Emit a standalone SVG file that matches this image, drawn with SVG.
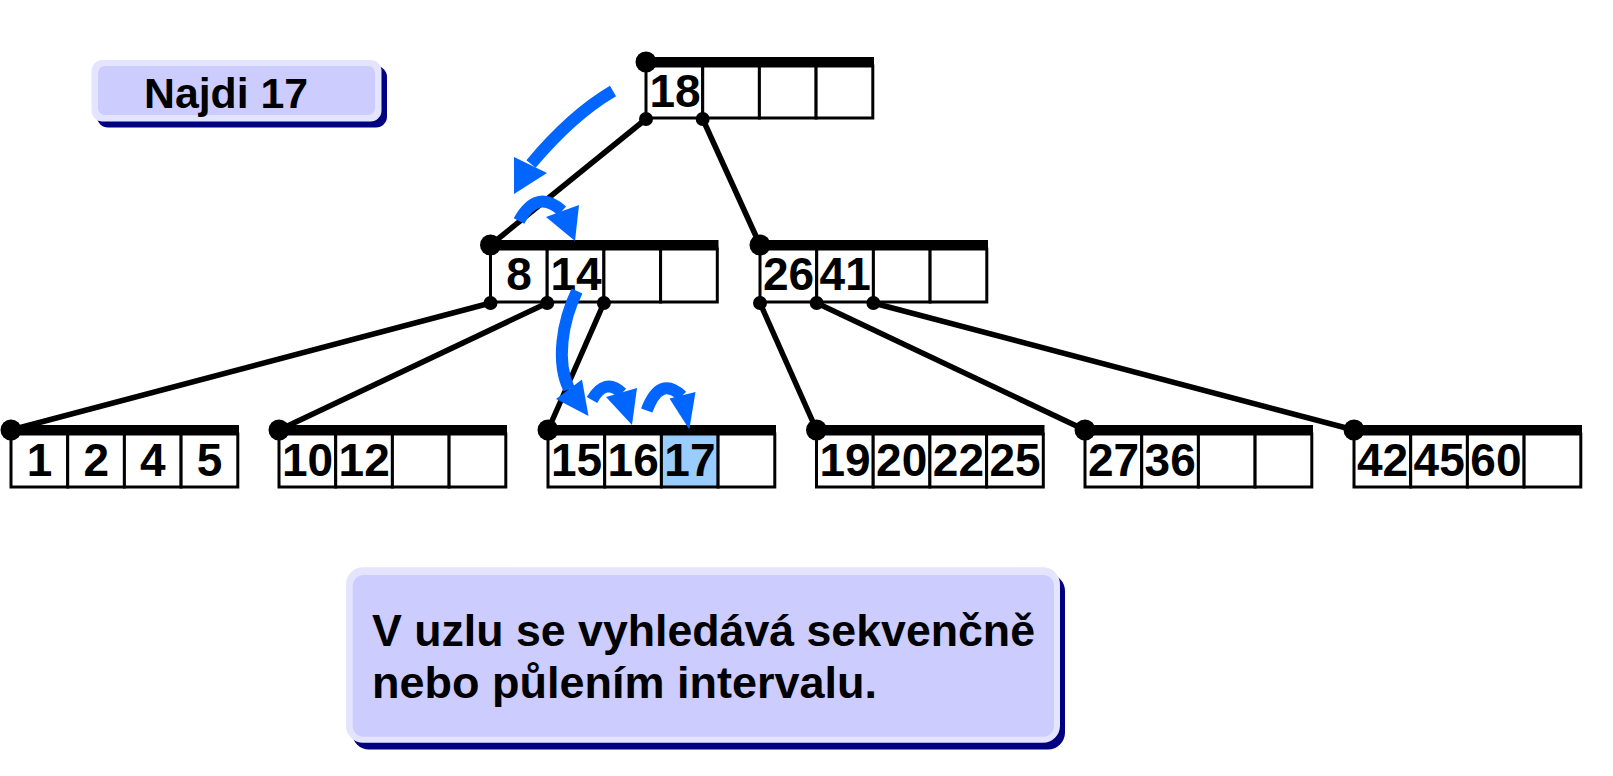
<svg xmlns="http://www.w3.org/2000/svg" width="1613" height="776" viewBox="0 0 1613 776">
<style>
.cell{fill:#fff;stroke:#000;stroke-width:3}
.hl{fill:#99CCFF}
.bar{fill:#000}
.dot{fill:#000}
.num{font-family:"Liberation Sans",Arial,sans-serif;font-weight:bold;font-size:46px;text-anchor:middle;fill:#000}
.lbl{font-family:"Liberation Sans",Arial,sans-serif;font-weight:bold;fill:#000}
.edge{stroke:#000;stroke-width:5.5;fill:none}
.arr{stroke:#0066FF;stroke-width:12;fill:none}
.head{fill:#0066FF}
.shadow{fill:#000080}
.rim{fill:#E4E4FF}
.inner{fill:#CCCCFF}
</style>
<rect width="1613" height="776" fill="#fff"/>

<g id="connectors">
<line class="edge" x1="646" y1="119" x2="490.5" y2="245"/>
<line class="edge" x1="702.7" y1="119" x2="760" y2="245"/>
<line class="edge" x1="490.5" y1="303" x2="11" y2="430"/>
<line class="edge" x1="547.2" y1="303" x2="279" y2="430"/>
<line class="edge" x1="603.9" y1="303" x2="548" y2="430"/>
<line class="edge" x1="760" y1="303" x2="816.5" y2="430"/>
<line class="edge" x1="816.7" y1="303" x2="1085" y2="430"/>
<line class="edge" x1="873.4" y1="303" x2="1354" y2="430"/>
</g>

<g id="label-najdi">
<rect class="shadow" x="97" y="66" width="290" height="61.5" rx="11"/>
<rect class="rim" x="91.5" y="60" width="290" height="61.5" rx="11"/>
<rect class="inner" x="98" y="66" width="277" height="49" rx="7"/>
<text class="lbl" x="144" y="108.3" font-size="42" textLength="164" lengthAdjust="spacingAndGlyphs">Najdi 17</text>
</g>

<g id="root">
<rect class="cell" x="646" y="66" width="56.7" height="52"/>
<rect class="cell" x="702.7" y="66" width="56.7" height="52"/>
<rect class="cell" x="759.4" y="66" width="56.7" height="52"/>
<rect class="cell" x="816.1" y="66" width="56.7" height="52"/>
<rect class="bar" x="646" y="57" width="228" height="10"/>
<circle class="dot" cx="646" cy="62" r="10.5"/>
<circle class="dot" cx="646" cy="119" r="7"/>
<circle class="dot" cx="702.7" cy="119" r="7"/>
<text class="num" x="675" y="106.5">18</text>
</g>

<g id="inner-left">
<rect class="cell" x="490.5" y="249" width="56.7" height="53"/>
<rect class="cell" x="547.2" y="249" width="56.7" height="53"/>
<rect class="cell" x="603.9" y="249" width="56.7" height="53"/>
<rect class="cell" x="660.6" y="249" width="56.7" height="53"/>
<rect class="bar" x="490.5" y="240" width="228" height="10"/>
<circle class="dot" cx="490.5" cy="245" r="10.5"/>
<circle class="dot" cx="490.5" cy="303" r="7"/>
<circle class="dot" cx="547.2" cy="303" r="7"/>
<circle class="dot" cx="603.9" cy="303" r="7"/>
<text class="num" x="519" y="290">8</text>
<text class="num" x="576" y="290">14</text>
</g>

<g id="inner-right">
<rect class="cell" x="760" y="249" width="56.7" height="53"/>
<rect class="cell" x="816.7" y="249" width="56.7" height="53"/>
<rect class="cell" x="873.4" y="249" width="56.7" height="53"/>
<rect class="cell" x="930.1" y="249" width="56.7" height="53"/>
<rect class="bar" x="760" y="240" width="228" height="10"/>
<circle class="dot" cx="760" cy="245" r="10.5"/>
<circle class="dot" cx="760" cy="303" r="7"/>
<circle class="dot" cx="816.7" cy="303" r="7"/>
<circle class="dot" cx="873.4" cy="303" r="7"/>
<text class="num" x="788.5" y="290">26</text>
<text class="num" x="845.2" y="290">41</text>
</g>

<g id="leaf1">
<rect class="cell" x="11" y="434" width="56.7" height="53"/>
<rect class="cell" x="67.7" y="434" width="56.7" height="53"/>
<rect class="cell" x="124.4" y="434" width="56.7" height="53"/>
<rect class="cell" x="181.1" y="434" width="56.7" height="53"/>
<rect class="bar" x="11" y="425" width="228" height="10"/>
<circle class="dot" cx="11" cy="430" r="10.5"/>
<text class="num" x="39.5" y="476">1</text>
<text class="num" x="96.2" y="476">2</text>
<text class="num" x="152.9" y="476">4</text>
<text class="num" x="209.6" y="476">5</text>
</g>

<g id="leaf2">
<rect class="cell" x="279" y="434" width="56.7" height="53"/>
<rect class="cell" x="335.7" y="434" width="56.7" height="53"/>
<rect class="cell" x="392.4" y="434" width="56.7" height="53"/>
<rect class="cell" x="449.1" y="434" width="56.7" height="53"/>
<rect class="bar" x="279" y="425" width="228" height="10"/>
<circle class="dot" cx="279" cy="430" r="10.5"/>
<text class="num" x="307.5" y="476">10</text>
<text class="num" x="364.2" y="476">12</text>
</g>

<g id="leaf3">
<rect class="cell" x="548" y="434" width="56.7" height="53"/>
<rect class="cell" x="604.7" y="434" width="56.7" height="53"/>
<rect class="cell hl" x="661.4" y="434" width="56.7" height="53"/>
<rect class="cell" x="718.1" y="434" width="56.7" height="53"/>
<rect class="bar" x="548" y="425" width="228" height="10"/>
<circle class="dot" cx="548" cy="430" r="10.5"/>
<text class="num" x="576.5" y="476">15</text>
<text class="num" x="633.2" y="476">16</text>
<text class="num" x="689.9" y="476">17</text>
</g>

<g id="leaf4">
<rect class="cell" x="816.5" y="434" width="56.7" height="53"/>
<rect class="cell" x="873.2" y="434" width="56.7" height="53"/>
<rect class="cell" x="929.9" y="434" width="56.7" height="53"/>
<rect class="cell" x="986.6" y="434" width="56.7" height="53"/>
<rect class="bar" x="816.5" y="425" width="228" height="10"/>
<circle class="dot" cx="816.5" cy="430" r="10.5"/>
<text class="num" x="845" y="476">19</text>
<text class="num" x="901.7" y="476">20</text>
<text class="num" x="958.4" y="476">22</text>
<text class="num" x="1015.1" y="476">25</text>
</g>

<g id="leaf5">
<rect class="cell" x="1085" y="434" width="56.7" height="53"/>
<rect class="cell" x="1141.7" y="434" width="56.7" height="53"/>
<rect class="cell" x="1198.4" y="434" width="56.7" height="53"/>
<rect class="cell" x="1255.1" y="434" width="56.7" height="53"/>
<rect class="bar" x="1085" y="425" width="228" height="10"/>
<circle class="dot" cx="1085" cy="430" r="10.5"/>
<text class="num" x="1113.5" y="476">27</text>
<text class="num" x="1170.2" y="476">36</text>
</g>

<g id="leaf6">
<rect class="cell" x="1354" y="434" width="56.7" height="53"/>
<rect class="cell" x="1410.7" y="434" width="56.7" height="53"/>
<rect class="cell" x="1467.4" y="434" width="56.7" height="53"/>
<rect class="cell" x="1524.1" y="434" width="56.7" height="53"/>
<rect class="bar" x="1354" y="425" width="228" height="10"/>
<circle class="dot" cx="1354" cy="430" r="10.5"/>
<text class="num" x="1382.5" y="476">42</text>
<text class="num" x="1439.2" y="476">45</text>
<text class="num" x="1495.9" y="476">60</text>
</g>

<g id="search-arrows">
<path class="arr" d="M 613 91 Q 572 115 531 164"/>
<polygon class="head" points="514,157 547,173 514,194"/>
<path class="arr" d="M 519 221 Q 537 188 562 211"/>
<polygon class="head" points="546,217 579,205 575,241"/>
<path class="arr" d="M 577 291 C 562 322 556 362 569 389"/>
<polygon class="head" points="556,399 582,379.5 588.5,416"/>
<path class="arr" d="M 592 400 Q 605 377 622 393"/>
<polygon class="head" points="606,397 637,388 632,425"/>
<path class="arr" d="M 646.7 410.5 Q 660 375 682 396"/>
<polygon class="head" points="669.5,398.5 695.5,392 689.3,429.5"/>
</g>

<g id="note">
<rect class="shadow" x="352" y="574" width="713" height="175.5" rx="17"/>
<rect class="rim" x="346" y="567.3" width="714" height="175.5" rx="17"/>
<rect class="inner" x="352.7" y="575" width="701.3" height="161.7" rx="11"/>
<text class="lbl" font-size="45"><tspan x="372" y="646" textLength="663" lengthAdjust="spacingAndGlyphs">V uzlu se vyhledává sekvenčně</tspan><tspan x="372" y="698">nebo půlením intervalu.</tspan></text>
</g>
</svg>
